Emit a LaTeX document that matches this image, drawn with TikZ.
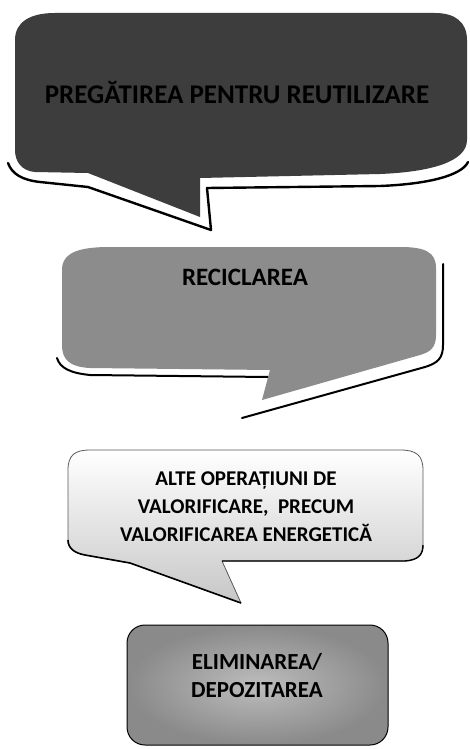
\documentclass[tikz,border=0pt]{standalone}
\usepackage{fontspec}
\setmainfont{Carlito}
\usetikzlibrary{shapes.misc}
\definecolor{darkfill}{HTML}{3D3D3D}
\definecolor{midfill}{HTML}{8C8C8C}
\tikzset{
  shadowline/.style={draw=black, line width=2.4pt, line join=round, line cap=round},
  labeltext/.style={inner sep=0pt, text=black, font=\bfseries},
}
\begin{document}
\begin{tikzpicture}[x=1pt,y=-1pt]
\useasboundingbox (0,0) rectangle (469,749);
\fill[white] (0,0) rectangle (469,749);

% ---- callout 1 ----
\draw[shadowline] (8,163) .. controls (12,174) and (22,180) .. (40,182) -- (88,187) -- (211,230) -- (207,188) -- (380,186) .. controls (430,184) and (462,175) .. (468,162);
\fill[darkfill] (15,40) .. controls (15,22) and (30,13) .. (55,13) -- (435,13) .. controls (455,13) and (467,22) .. (467,40) -- (467,140) .. controls (467,162) and (430,172) .. (380,174) -- (200,178) -- (200,217) -- (88,173) -- (35,172) .. controls (22,171) and (15,162) .. (15,150) -- cycle;
\node[labeltext, anchor=base, font=\fontsize{27}{30}\selectfont\bfseries] (t1) at (237,103) {PREGĂTIREA PENTRU REUTILIZARE};

% ---- callout 2 ----
\draw[shadowline, line width=2pt] (57,358) .. controls (60,368) and (70,373) .. (90,375) -- (268,377);
\draw[shadowline, line width=2pt] (242,418) -- (425,367) .. controls (438,363) and (443,358) .. (443,345) -- (443,264);
\fill[midfill] (62,270) .. controls (62,252) and (80,247) .. (110,247) -- (400,247) .. controls (425,247) and (436,252) .. (436,268) -- (436,335) .. controls (436,348) and (430,352) .. (420,355) -- (262,400) -- (270,370) -- (90,368) .. controls (70,367) and (62,360) .. (62,345) -- cycle;
\node[labeltext, anchor=base, font=\fontsize{25}{30}\selectfont\bfseries] (t2) at (245,285) {RECICLAREA};

% ---- callout 3 ----
\shade[top color=white, middle color=white, bottom color=black!22] (68,470) .. controls (68,455) and (75,450) .. (90,450) -- (400,450) .. controls (416,450) and (423,455) .. (423,470) -- (423,545) .. controls (423,555) and (418,560) .. (405,561) -- (222,561) -- (241,603) -- (130,563) -- (85,555) .. controls (74,553) and (68,548) .. (68,540) -- cycle;
\draw[black!65, line width=0.8pt, line join=round] (68,470) .. controls (68,455) and (75,450) .. (90,450) -- (400,450) .. controls (416,450) and (423,455) .. (423,470) -- (423,545) .. controls (423,555) and (418,560) .. (405,561) -- (222,561) -- (241,603) -- (130,563) -- (85,555) .. controls (74,553) and (68,548) .. (68,540) -- cycle;
\draw[black, line width=1.6pt, line join=round] (68,540) .. controls (68,548) and (74,553) .. (85,555) -- (130,563) -- (241,603);
\draw[black, line width=1.4pt] (222,561) -- (405,561) .. controls (418,560) and (423,555) .. (423,545);
\node[labeltext, align=center, font=\fontsize{21}{28}\selectfont\bfseries] (t3) at (246,507) {ALTE OPERAȚIUNI DE\\VALORIFICARE,\ \ PRECUM\\VALORIFICAREA ENERGETICĂ};

% ---- box 4 ----
\node[draw=black, line width=1pt, rounded corners=18pt, inner color=black!26, outer color=black!46,
      minimum width=261pt, minimum height=120pt, inner sep=0pt] (b4) at (257.5,685) {};
\node[labeltext, align=center, font=\fontsize{23}{28}\selectfont\bfseries] (t4) at (257,676) {ELIMINAREA/\\DEPOZITAREA};
\end{tikzpicture}
\end{document}
